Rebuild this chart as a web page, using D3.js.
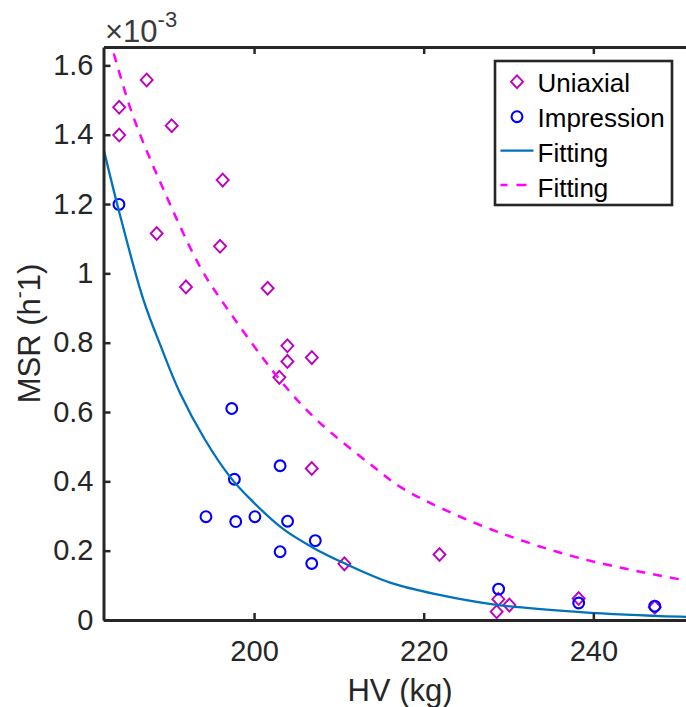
<!DOCTYPE html>
<html>
<head>
<meta charset="utf-8">
<script src="https://cdn.jsdelivr.net/npm/d3@7"></script>
<style>
  html, body { margin: 0; padding: 0; background: #fff; }
  svg { display: block; }
  text { font-family: "Liberation Sans", Arial, Helvetica, sans-serif; }
</style>
</head>
<body>
<div id="chart"></div>
<script>
// ---------- data (MSR in units of 1e-3 h^-1) ----------
const uniaxialHV  = [184.1, 184.1, 187.34, 190.29, 196.3, 188.52, 195.99, 191.97, 201.6, 203.93, 203.93, 206.81, 202.98, 206.8, 210.65, 221.86, 228.8, 230.1, 228.6, 238.27, 247.24];
const uniaxialMSR = [1.479, 1.399, 1.558, 1.426, 1.269, 1.115, 1.078, 0.961, 0.957, 0.791, 0.746, 0.757, 0.700, 0.437, 0.162, 0.189, 0.060, 0.043, 0.024, 0.062, 0.037];

const impressionHV  = [184.07, 197.37, 203.07, 197.68, 194.33, 197.84, 200.1, 203.95, 207.22, 203.07, 206.8, 228.83, 238.27, 247.24];
const impressionMSR = [1.199, 0.610, 0.445, 0.406, 0.298, 0.284, 0.298, 0.285, 0.229, 0.197, 0.163, 0.089, 0.049, 0.040];

// fitted curves
const fitImpHV  = [182.25, 184.07, 186.94, 189.0, 191.27, 194.22, 197.17, 199.5, 203.46, 207.0, 210.53, 216.04, 221.56, 228.83, 238.47, 250.27, 252.2];
const fitImpMSR = [1.360, 1.180, 0.925, 0.790, 0.655, 0.520, 0.413, 0.350, 0.262, 0.208, 0.165, 0.108, 0.074, 0.043, 0.023, 0.0095, 0.0085];

const fitUniHV  = [182.25, 183.33, 185.76, 189.7, 193.63, 195.99, 203.07, 207.4, 214.08, 217.23, 220.8, 228.63, 238.47, 250.27, 252.2];
const fitUniMSR = [1.727, 1.644, 1.452, 1.221, 1.019, 0.928, 0.692, 0.577, 0.442, 0.384, 0.337, 0.255, 0.178, 0.117, 0.109];

const xTicks = [200, 220, 240];
const yTicks = [0, 0.2, 0.4, 0.6, 0.8, 1, 1.2, 1.4, 1.6];
const legendLabels = ["Uniaxial", "Impression", "Fitting", "Fitting"];

// ---------- layout ----------
const W = 686, H = 707;
const L = 103.5, R = 696.5, T = 47, B = 620;
const ink = "#262626";
const cUni = "#BF00BF", cImp = "#0000FF", cFitImp = "#0072BD", cFitUni = "#FF00FF";

const svg = d3.select("#chart").append("svg").attr("width", W).attr("height", H);

const x = d3.scaleLinear().domain([182.25, 252.16]).range([L, R]);
const y = d3.scaleLinear().domain([0, 1.653]).range([B, T]);

svg.append("defs").append("clipPath").attr("id", "clip")
  .append("rect").attr("x", L).attr("y", T).attr("width", R - L).attr("height", B - T);

const plot = svg.append("g").attr("clip-path", "url(#clip)");

// curves
const line = d3.line().x(d => x(d[0])).y(d => y(d[1])).curve(d3.curveCatmullRom.alpha(0.5));
const impCurve = fitImpHV.map((v, i) => [v, fitImpMSR[i]]);
const uniCurve = fitUniHV.map((v, i) => [v, fitUniMSR[i]]);

// markers
const diamond = "M0,-6.4L6,0L0,6.4L-6,0Z";
plot.selectAll(".uni").data(uniaxialHV.map((v, i) => [v, uniaxialMSR[i]])).join("path")
  .attr("d", diamond)
  .attr("transform", d => `translate(${x(d[0])},${y(d[1])})`)
  .attr("fill", "none").attr("stroke", cUni).attr("stroke-width", 1.9);

plot.selectAll(".imp").data(impressionHV.map((v, i) => [v, impressionMSR[i]])).join("circle")
  .attr("cx", d => x(d[0])).attr("cy", d => y(d[1])).attr("r", 5.4)
  .attr("fill", "none").attr("stroke", cImp).attr("stroke-width", 2.1);

plot.append("path").datum(impCurve).attr("d", line)
  .attr("fill", "none").attr("stroke", cFitImp).attr("stroke-width", 2.3);
plot.append("path").datum(uniCurve).attr("d", line)
  .attr("fill", "none").attr("stroke", cFitUni).attr("stroke-width", 2.5)
  .attr("stroke-dasharray", "9,8");

// ---------- axes ----------
const fmtY = d => d === 0 ? "0" : String(+d.toFixed(1));

const gx = svg.append("g").attr("transform", `translate(0,${B})`)
  .call(d3.axisBottom(x).tickValues(xTicks).tickSize(-7).tickPadding(20).tickSizeOuter(0));
const gxTop = svg.append("g").attr("transform", `translate(0,${T})`)
  .call(d3.axisTop(x).tickValues(xTicks).tickSize(-7).tickFormat("").tickSizeOuter(0));
const gy = svg.append("g").attr("transform", `translate(${L},0)`)
  .call(d3.axisLeft(y).tickValues(yTicks).tickFormat(fmtY).tickSize(-7).tickPadding(10).tickSizeOuter(0));

[gx, gxTop, gy].forEach(g => {
  g.select(".domain").attr("stroke", ink).attr("stroke-width", 3);
  g.selectAll(".tick line").attr("stroke", ink).attr("stroke-width", 2.5);
  g.selectAll(".tick text").attr("fill", ink).attr("font-size", 29)
    .attr("font-family", '"Liberation Sans", Arial, sans-serif');
});
// right frame (beyond visible edge)
svg.append("line").attr("x1", R).attr("x2", R).attr("y1", T).attr("y2", B)
  .attr("stroke", ink).attr("stroke-width", 3);

// exponent label
const ex = svg.append("text").attr("x", 105).attr("y", 42).attr("fill", "#3a3a3a").attr("font-size", 31);
ex.append("tspan").text("\u00D710");
ex.append("tspan").attr("font-size", 22).attr("dy", -15).text("-3");

// axis labels
svg.append("text").attr("x", (L + R) / 2).attr("y", 701).attr("text-anchor", "middle")
  .attr("fill", ink).attr("font-size", 31).text("HV (kg)");

const yl = svg.append("text").attr("transform", `translate(40,${(T + B) / 2}) rotate(-90)`)
  .attr("text-anchor", "middle").attr("fill", ink).attr("font-size", 31);
yl.append("tspan").text("MSR (h");
yl.append("tspan").attr("font-size", 21).attr("dy", -14).text("-");
yl.append("tspan").attr("dy", 14).text("1)");

// ---------- legend ----------
const lg = svg.append("g");
lg.append("rect").attr("x", 495).attr("y", 61).attr("width", 177).attr("height", 144)
  .attr("fill", "#fff").attr("stroke", ink).attr("stroke-width", 2.6);
const rowY = [82.5, 117.5, 152.5, 187.5];
legendLabels.forEach((lab, i) => {
  const yy = rowY[i];
  if (i === 0) {
    lg.append("path").attr("d", diamond).attr("transform", `translate(517,${yy - 0.8})`)
      .attr("fill", "none").attr("stroke", cUni).attr("stroke-width", 1.9);
  } else if (i === 1) {
    lg.append("circle").attr("cx", 517).attr("cy", yy - 0.8).attr("r", 5.4)
      .attr("fill", "none").attr("stroke", cImp).attr("stroke-width", 2.1);
  } else if (i === 2) {
    lg.append("line").attr("x1", 500.5).attr("x2", 533.5).attr("y1", yy - 1.8).attr("y2", yy - 1.8)
      .attr("stroke", cFitImp).attr("stroke-width", 2.3);
  } else {
    lg.append("line").attr("x1", 500.5).attr("x2", 533.5).attr("y1", yy - 2.5).attr("y2", yy - 2.5)
      .attr("stroke", cFitUni).attr("stroke-width", 2.5).attr("stroke-dasharray", "7,9,10,9");
  }
  lg.append("text").attr("x", 537.5).attr("y", yy + 9.2).attr("font-size", 26).attr("fill", "#000").text(lab);
});
</script>
</body>
</html>
